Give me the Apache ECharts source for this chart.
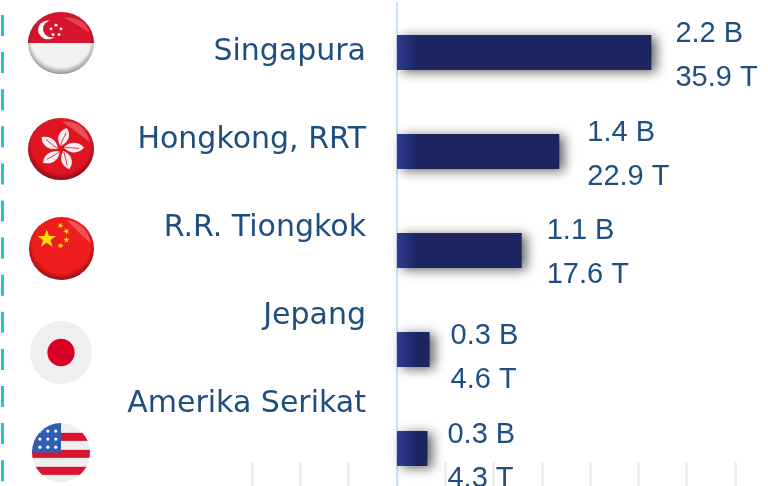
<!DOCTYPE html>
<html>
<head>
<meta charset="utf-8">
<style>
  html, body { margin: 0; padding: 0; background: #fff; }
  #chart { width: 768px; height: 486px; }
</style>
<script src="https://cdn.jsdelivr.net/npm/echarts@6/dist/echarts.min.js"></script>
</head>
<body>
<div id="chart"></div>
<script>
// data
var countries = ['Singapura', 'Hongkong, RRT', 'R.R. Tiongkok', 'Jepang', 'Amerika Serikat'];
var valuesB = [2.2, 1.4, 1.1, 0.3, 0.3];
var valuesT = [35.9, 22.9, 17.6, 4.6, 4.3];

var textColor = '#1f4e80';

// the value labels do not sit at a fixed spot next to the bars
var labelOffsets = [[1, 3], [5, 3], [2, 2], [-2, 8], [-3, 8]];

// flags, drawn as small svg
function gloss(id) {
  return '<defs><radialGradient id="' + id + '" cx="50%" cy="45%" r="55%">' +
    '<stop offset="0.8" stop-color="#000" stop-opacity="0"/>' +
    '<stop offset="1" stop-color="#000" stop-opacity="0.4"/></radialGradient></defs>';
}
function star(x, y, r, rot) {
  var pts = [];
  for (var i = 0; i < 10; i++) {
    var a = (i * 36 - 90 + (rot || 0)) * Math.PI / 180;
    var d = i % 2 ? r * 0.4 : r;
    pts.push((x + d * Math.cos(a)).toFixed(1) + ',' + (y + d * Math.sin(a)).toFixed(1));
  }
  return '<polygon fill="#ffe000" points="' + pts.join(' ') + '"/>';
}
function svgUrl(body) {
  return 'data:image/svg+xml;charset=utf-8,' + encodeURIComponent(
    '<svg xmlns="http://www.w3.org/2000/svg" width="66" height="62" viewBox="0 0 66 66" preserveAspectRatio="none">' + body + '</svg>');
}

var sgFlag = svgUrl(gloss('a') +
  '<clipPath id="c"><circle cx="33" cy="33" r="33"/></clipPath>' +
  '<g clip-path="url(#c)"><rect width="66" height="33" fill="#d8142c"/><rect y="33" width="66" height="33" fill="#f2f2f2"/>' +
  '<circle cx="20" cy="19" r="10" fill="#fff"/><circle cx="24" cy="18" r="9" fill="#d8142c"/>' +
  '<circle cx="28" cy="14" r="1.5" fill="#fff"/><circle cx="23" cy="18" r="1.5" fill="#fff"/><circle cx="33" cy="18" r="1.5" fill="#fff"/>' +
  '<circle cx="25" cy="24" r="1.5" fill="#fff"/><circle cx="31" cy="24" r="1.5" fill="#fff"/>' +
  '<path d="M36 6 Q56 4 62 22 Q50 14 36 6Z" fill="#fff" opacity="0.2"/></g>' +
  '<circle cx="33" cy="33" r="33" fill="url(#a)"/>');

var petals = '';
for (var p = 0; p < 5; p++) {
  petals += '<path transform="rotate(' + (p * 72 + 10) + ' 33 33)" d="M32 30 C26 24 27 14 35 10 C41 17 39 25 32 30Z" fill="#fbeef2"/>' +
    '<path transform="rotate(' + (p * 72 + 10) + ' 33 33)" d="M32 29 Q33 22 35 15" stroke="#d8142c" stroke-width="0.8" fill="none"/>';
}
var hkFlag = svgUrl(gloss('b') +
  '<circle cx="33" cy="33" r="33" fill="#df1522"/>' + petals +
  '<path d="M34 4 Q56 2 62 26 Q48 14 34 4Z" fill="#fff" opacity="0.25"/>' +
  '<circle cx="33" cy="33" r="33" fill="url(#b)"/>');

var cnFlag = svgUrl(gloss('d') +
  '<circle cx="33" cy="33" r="33" fill="#ee1c1c"/>' +
  star(18, 23, 10) + star(32, 9, 3.4, 20) + star(38, 15, 3.4, 40) + star(38, 24, 3.4, 0) + star(32, 30, 3.4, 20) +
  '<path d="M38 3 Q58 6 63 28 Q50 16 38 3Z" fill="#fff" opacity="0.25"/>' +
  '<circle cx="33" cy="33" r="33" fill="url(#d)"/>');

var jpFlag = svgUrl(
  '<circle cx="33" cy="33" r="33" fill="#efefef"/><circle cx="33" cy="33" r="14.5" fill="#d80027"/>');

var stripes = '';
for (var s = 0; s < 3; s++) {
  stripes += '<rect y="' + (11 + s * 19) + '" width="66" height="9" fill="#d9142e"/>';
}
var dots = '';
for (var r = 0; r < 3; r++) {
  for (var q = 0; q < 3; q++) {
    dots += '<circle cx="' + (9 + q * 9) + '" cy="' + (9 + r * 9) + '" r="1.8" fill="#fff"/>';
  }
}
var usFlag = svgUrl('<clipPath id="u"><circle cx="33" cy="33" r="33"/></clipPath>' +
  '<g clip-path="url(#u)"><rect width="66" height="66" fill="#efefef"/>' + stripes +
  '<rect width="33" height="33" fill="#2f5fb3"/>' + dots + '</g>');

var chart = echarts.init(document.getElementById('chart'));

var barData = valuesT.map(function(v, i) {
  return { value: v, label: { offset: labelOffsets[i] } };
});

var option = {
  animation: false,
  backgroundColor: '#fff',
  grid: [
    // bars, runs past the bottom of the window
    { left: 397, top: 3, width: 360, height: 495, outerBoundsMode: 'none' },
    // country names sit on a tighter spacing than the bars
    { left: 370, top: 8, width: 20, height: 440, outerBoundsMode: 'none' },
    // faint gridline stubs at the bottom
    { left: 252, top: 462, width: 483, height: 24, outerBoundsMode: 'none' }
  ],
  xAxis: [
    { gridIndex: 0, type: 'value', min: 0, max: 50.8, show: false },
    { gridIndex: 1, type: 'value', min: 0, max: 1, show: false },
    {
      gridIndex: 2, type: 'value', min: 0, max: 10, interval: 1,
      axisLine: { show: false },
      axisTick: { show: false },
      axisLabel: { show: false },
      splitLine: { show: true, lineStyle: { color: '#f0f0f0', width: 3 } }
    }
  ],
  yAxis: [
    {
      gridIndex: 0, type: 'category', inverse: true, data: countries, offset: 1,
      axisLine: { show: true, lineStyle: { color: '#cfe3f7', width: 2 } },
      axisTick: { show: false },
      axisLabel: { show: false }
    },
    {
      gridIndex: 1, type: 'category', inverse: true, data: countries,
      axisLine: { show: false },
      axisTick: { show: false },
      axisLabel: { color: textColor, fontFamily: '"DejaVu Sans", sans-serif', fontSize: 30, margin: 4 }
    },
    { gridIndex: 2, type: 'category', data: [''], show: false }
  ],
  series: [{
    type: 'bar',
    xAxisIndex: 0,
    yAxisIndex: 0,
    data: barData,
    barWidth: 35,
    itemStyle: {
      color: {
        type: 'linear', global: true, x: 397, y: 0, x2: 417, y2: 0,
        colorStops: [{ offset: 0, color: '#2e3b94' }, { offset: 1, color: '#1d2560' }]
      },
      shadowColor: 'rgba(0,0,0,0.6)',
      shadowBlur: 12,
      shadowOffsetX: 5,
      shadowOffsetY: 2
    },
    label: {
      show: true,
      position: 'right',
      distance: 23,
      align: 'left',
      color: textColor,
      fontFamily: '"Liberation Sans", sans-serif',
      fontSize: 29,
      lineHeight: 44,
      formatter: function(p) {
        return valuesB[p.dataIndex].toFixed(1) + ' B\n' + valuesT[p.dataIndex].toFixed(1) + ' T';
      }
    }
  }],
  graphic: [
    {
      type: 'line',
      shape: { x1: 2.5, y1: 15, x2: 2.5, y2: 486 },
      style: { stroke: '#24c1dd', lineWidth: 3, lineDash: [21, 16.1] }
    },
    { type: 'image', left: 28, top: 12, style: { image: sgFlag, width: 66, height: 62 } },
    { type: 'image', left: 28, top: 118, style: { image: hkFlag, width: 66, height: 62 } },
    { type: 'image', left: 29, top: 217, style: { image: cnFlag, width: 65, height: 63 } },
    { type: 'image', left: 30, top: 321, style: { image: jpFlag, width: 62, height: 63 } },
    { type: 'image', left: 32, top: 423, style: { image: usFlag, width: 58, height: 59 } }
  ]
};
chart.setOption(option);
</script>
</body>
</html>
